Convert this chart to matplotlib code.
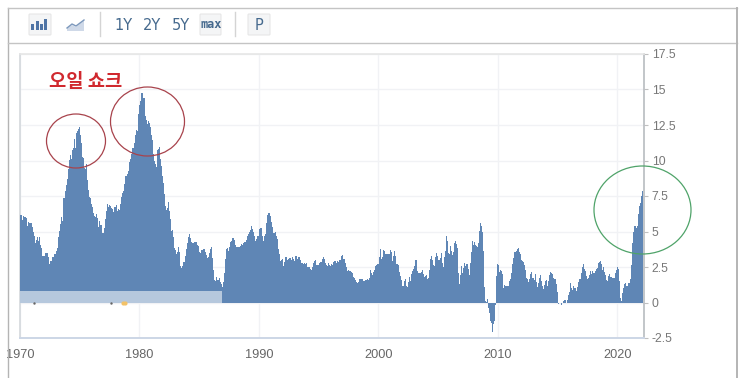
import matplotlib
matplotlib.use("Agg")
import matplotlib.pyplot as plt
from matplotlib.patches import Ellipse, Rectangle, FancyBboxPatch, Polygon

start_year = 1970
values = [
 6.18,6.15,5.82,6.06,6.04,6.01,5.98,5.41,5.66,5.63,5.60,5.57,
 5.29,5.00,4.71,4.16,4.40,4.64,4.36,4.62,4.08,3.81,3.30,3.27,
 3.27,3.51,3.50,3.49,3.23,2.71,2.95,2.94,3.19,3.18,3.42,3.41,
 3.65,3.87,4.59,5.06,5.53,6.00,5.73,7.38,7.36,7.84,8.25,8.71,
 9.39,10.02,10.39,10.09,10.71,10.86,11.51,10.86,11.95,12.06,12.20,12.34,
 11.80,11.23,10.25,10.21,9.47,9.39,9.72,8.60,7.91,7.44,7.38,6.94,
 6.72,6.29,6.07,6.05,6.20,5.97,5.35,5.71,5.49,5.46,4.88,4.86,
 5.22,5.91,6.44,6.95,6.73,6.87,6.83,6.62,6.60,6.39,6.72,6.70,
 6.84,6.43,6.55,6.50,6.97,7.41,7.70,7.84,8.31,8.93,8.89,9.02,
 9.28,9.86,10.09,10.49,10.85,10.89,11.26,11.82,12.18,12.07,12.66,13.29,
 13.91,14.18,14.76,14.73,14.41,14.38,13.13,12.87,12.60,12.77,12.65,12.35,
 11.83,11.41,10.49,10.00,9.78,9.55,10.76,10.80,10.95,10.14,9.59,8.92,
 8.39,7.62,6.78,6.51,6.68,7.06,6.44,5.85,5.04,5.14,4.59,3.83,
 3.71,3.43,3.55,3.90,3.55,2.58,2.46,2.56,2.86,2.85,3.27,3.79,
 4.19,4.60,4.80,4.56,4.23,4.22,4.20,4.29,4.27,4.26,4.05,3.95,
 3.53,3.52,3.70,3.69,3.77,3.76,3.55,3.35,3.14,3.23,3.51,3.80,
 3.89,3.11,2.26,1.59,1.49,1.77,1.58,1.57,1.75,1.47,1.28,1.10,
 1.46,2.10,3.03,3.78,3.86,3.65,3.93,4.28,4.36,4.53,4.53,4.43,
 4.05,3.94,3.93,3.90,3.89,3.96,4.13,4.02,4.17,4.25,4.25,4.42,
 4.67,4.83,4.98,5.12,5.36,5.17,4.98,4.71,4.34,4.49,4.66,4.65,
 5.20,5.26,5.23,4.71,4.36,4.67,4.82,5.62,6.16,6.29,6.27,6.11,
 5.65,5.31,4.90,4.89,4.95,4.70,4.45,3.80,3.39,2.92,2.99,3.06,
 2.60,2.82,3.19,3.18,3.02,3.09,3.16,3.15,2.99,3.20,3.05,2.90,
 3.26,3.25,3.09,3.23,3.22,3.00,2.78,2.77,2.69,2.75,2.68,2.75,
 2.52,2.52,2.51,2.36,2.29,2.49,2.77,2.90,2.96,2.61,2.67,2.67,
 2.80,2.86,2.85,3.05,3.19,3.04,2.76,2.62,2.54,2.81,2.61,2.54,
 2.73,2.65,2.84,2.90,2.89,2.75,2.95,2.88,3.00,2.99,3.26,3.32,
 3.04,3.03,2.76,2.50,2.23,2.30,2.23,2.23,2.15,2.08,1.83,1.70,
 1.57,1.44,1.37,1.44,1.69,1.68,1.68,1.62,1.49,1.49,1.55,1.61,
 1.67,1.61,1.73,2.28,2.09,1.96,2.14,2.26,2.63,2.56,2.62,2.68,
 2.74,3.22,3.76,3.07,3.19,3.73,3.66,3.41,3.45,3.45,3.45,3.39,
 3.73,3.53,2.92,3.27,3.62,3.25,2.72,2.72,2.65,2.13,1.90,1.55,
 1.14,1.14,1.48,1.64,1.18,1.07,1.46,1.80,1.51,2.03,2.20,2.38,
 2.60,2.98,3.02,2.22,2.06,2.11,2.11,2.16,2.32,2.04,1.77,1.88,
 1.93,1.69,1.74,2.29,3.05,3.27,2.99,2.65,2.54,3.19,3.52,3.26,
 2.97,3.01,3.15,3.51,2.80,2.53,3.17,3.64,4.69,4.35,3.46,3.42,
 3.99,3.60,3.36,3.55,4.17,4.32,4.15,3.82,2.06,1.31,1.97,2.54,
 2.08,2.42,2.78,2.57,2.69,2.69,2.36,1.97,2.76,3.54,4.31,4.08,
 4.28,4.03,3.98,3.94,4.18,5.02,5.60,5.37,4.94,3.66,1.07,0.09,
 0.03,0.24,-0.38,-0.74,-1.28,-1.43,-2.10,-1.48,-1.29,-0.18,1.84,2.72,
 2.63,2.14,2.31,2.24,2.02,1.05,1.24,1.15,1.14,1.17,1.14,1.50,
 1.63,2.11,2.68,3.16,3.57,3.56,3.63,3.77,3.87,3.53,3.39,2.96,
 2.93,2.87,2.65,2.30,1.70,1.66,1.41,1.69,1.99,2.16,1.76,1.74,
 1.59,1.98,1.47,1.06,1.36,1.75,1.96,1.52,1.18,0.96,1.24,1.50,
 1.58,1.13,1.51,1.95,2.13,2.07,1.99,1.70,1.66,1.66,1.32,0.76,
 -0.09,-0.03,-0.07,-0.20,-0.04,0.12,0.17,0.20,-0.04,0.17,0.50,0.73,
 1.37,1.02,0.85,1.13,1.02,1.01,0.83,1.06,1.46,1.64,1.69,2.07,
 2.50,2.74,2.38,2.20,1.87,1.63,1.73,1.94,2.23,2.04,2.20,2.11,
 2.07,2.21,2.36,2.46,2.80,2.87,2.95,2.70,2.28,2.52,2.18,1.91,
 1.55,1.52,1.86,2.00,1.79,1.65,1.81,1.75,1.71,1.76,2.05,2.29,
 2.49,2.33,1.54,0.33,0.12,0.65,0.99,1.31,1.37,1.18,1.17,1.36,
 1.40,1.68,2.62,4.16,4.99,5.39,5.37,5.25,5.39,6.22,6.81,7.04,
 7.48,7.87,
]
x_years = [1970, 1980, 1990, 2000, 2010, 2020]
y_ticks = [-2.5, 0, 2.5, 5, 7.5, 10, 12.5, 15, 17.5]
y_labels = ["-2.5", "0", "2.5", "5", "7.5", "10", "12.5", "15", "17.5"]
range_labels = ["1Y", "2Y", "5Y", "max", "P"]
annotation = "오일 쇼크"

W, H = 743, 378
fig = plt.figure(figsize=(W / 100, H / 100), dpi=100, facecolor="white")
ax = fig.add_axes([20 / W, (H - 338) / H, 624 / W, 284 / H])
xs = [start_year + i / 12 for i in range(len(values))]
ax.bar(xs, values, width=1 / 12, align="edge", color="#5f86b5", linewidth=0, zorder=3)
ax.set_xlim(1970, 2022.22)
ax.set_ylim(-2.5, 17.5)
ax.set_xticks(x_years)
ax.set_xticklabels([str(y) for y in x_years], color="#666666", fontsize=9.2, family="Liberation Sans")
ax.yaxis.tick_right()
ax.set_yticks(y_ticks)
ax.set_yticklabels(y_labels, color="#777777", fontsize=8.8, family="Liberation Sans")
ax.tick_params(axis="x", length=0, pad=8)
ax.tick_params(axis="y", length=3, width=0.8, color="#c0c0c0", pad=2.5)
ax.grid(True, color="#f1f2f5", linewidth=1, zorder=0)
ax.set_axisbelow(True)
for side, col, lw in [("top", "#e6e6e6", 1.2), ("left", "#d4d8dc", 1.2),
                      ("right", "#b8bcc0", 1.2), ("bottom", "#ccd6e6", 1.4)]:
    ax.spines[side].set_color(col)
    ax.spines[side].set_linewidth(lw)
# navigator band over the lower part of the early bars
ax.axhspan(0, 0.8, xmin=0, xmax=(1986.9 - 1970) / 52.22, color="white", alpha=0.55, lw=0, zorder=4)
# small event flags at the baseline
ax.scatter([1971.2, 1977.6], [-0.07, -0.07], s=3, color="#666666", zorder=5, lw=0)
ax.scatter([1978.6, 1978.8], [-0.02, -0.02], s=9, color="#f3c268", zorder=5, lw=0)

# page chrome and hand-drawn markup, in pixel coordinates
ov = fig.add_axes([0, 0, 1, 1], facecolor="none")
ov.set_xlim(0, W)
ov.set_ylim(H, 0)
ov.axis("off")
grey = "#c4c4c4"
ov.plot([8, 8], [7.5, 378], color="#b4b4b4", lw=1)
ov.plot([8, 737], [7.5, 7.5], color=grey, lw=1)
ov.plot([8, 737], [42.5, 42.5], color=grey, lw=1)
ov.plot([737, 737], [7.5, 378], color="#b4b4b4", lw=1.4)
ov.plot([99.5, 99.5], [12, 36], color="#d4d4d4", lw=1)
ov.plot([234.5, 234.5], [12, 36], color="#d4d4d4", lw=1)
for x0, w in [(28, 24), (199, 23), (247, 24)]:
    ov.add_patch(FancyBboxPatch((x0 + 1, 14), w - 2, 21, boxstyle="round,pad=0,rounding_size=1",
                                fc="#f4f5f6", ec="#e6e6e6", lw=0.8))
for x0, h in [(31, 6), (35.5, 9), (40, 6), (44, 11)]:
    ov.add_patch(Rectangle((x0, 30 - h), 3, h, fc="#4f74a5", lw=0))
ov.add_patch(Polygon([(67, 31), (67, 28), (72, 25), (76, 27), (84, 20), (84, 31)], fc="#cfd9e8", ec="none"))
ov.plot([67, 72, 76, 84], [28, 24, 26, 20], color="#7c98bc", lw=1)
for lab, x0, fam in zip(range_labels, [124, 152, 181, 211, 259],
                        ["DejaVu Sans", "DejaVu Sans", "DejaVu Sans", "DejaVu Sans Mono", "DejaVu Sans"]):
    ov.text(x0, 25, lab, ha="center", va="center", color="#466a8e", family=fam,
            fontsize=8.6 if lab == "max" else 10.5, fontweight="bold" if lab == "max" else "normal")
ov.text(85.5, 81.5, annotation, ha="center", va="center", color="#d0282e", fontsize=13.5,
        fontweight="bold", family=["Noto Sans CJK KR", "DejaVu Sans"])
ov.add_patch(Ellipse((76, 141), 59, 54, fc="none", ec="#a8434c", lw=0.9))
ov.add_patch(Ellipse((147.5, 121.5), 74, 69, fc="none", ec="#a8434c", lw=0.9))
ov.add_patch(Ellipse((642.5, 210), 97, 88, fc="none", ec="#4fa369", lw=0.9))
fig.savefig("out.png", dpi=100)
